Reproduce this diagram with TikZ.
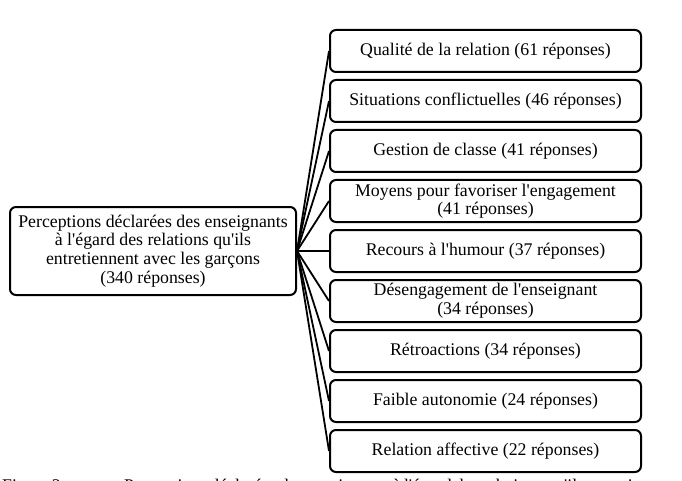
\documentclass[tikz,border=0pt]{standalone}
\usepackage{fontspec}
\usetikzlibrary{positioning}
\newfontfamily\figfont{Liberation Serif}
\definecolor{ink}{RGB}{0,0,0}

\begin{document}
\begin{tikzpicture}[x=1pt, y=-1pt,
  boxstyle/.style={draw=ink, line width=2pt, rounded corners=6pt, fill=white,
    align=center, inner sep=0pt, font=\figfont\fontsize{17.8}{18.6}\selectfont},
  link/.style={draw=ink, line width=1.8pt}]
\useasboundingbox (0,0) rectangle (682,481);
% central node
\node[boxstyle, minimum width=286pt, minimum height=88pt] (root) at (153,251)
  {Perceptions déclarées des enseignants\\à l'égard des relations qu'ils\\entretiennent avec les garçons\\(340 réponses)};
% categories, one per row
\foreach \txt [count=\i] in {Qualité de la relation (61 réponses),
    Situations conflictuelles (46 réponses),
    Gestion de classe (41 réponses),
    Moyens pour favoriser l'engagement\\(41 réponses),
    Recours à l'humour (37 réponses),
    Désengagement de l'enseignant\\(34 réponses),
    Rétroactions (34 réponses),
    Faible autonomie (24 réponses),
    Relation affective (22 réponses)} {
  \node[boxstyle, minimum width=311pt, minimum height=42pt] (c\i) at (485.5, 1+50*\i) {\txt};
  \draw[link] (root.east) -- (c\i.west);
}
% caption, cut by the page edge
\begin{scope}
  \clip (0,0) rectangle (682,481);
  \node[anchor=base west, inner sep=0pt, font=\figfont\fontsize{17.8}{18.6}\selectfont] (caption) at (2,491)
    {\makebox[678pt][s]{Figure 2.\hspace{3em} Perceptions déclarées des enseignants à l'égard des relations qu'ils entretiennent}};
\end{scope}
\end{tikzpicture}
\end{document}
